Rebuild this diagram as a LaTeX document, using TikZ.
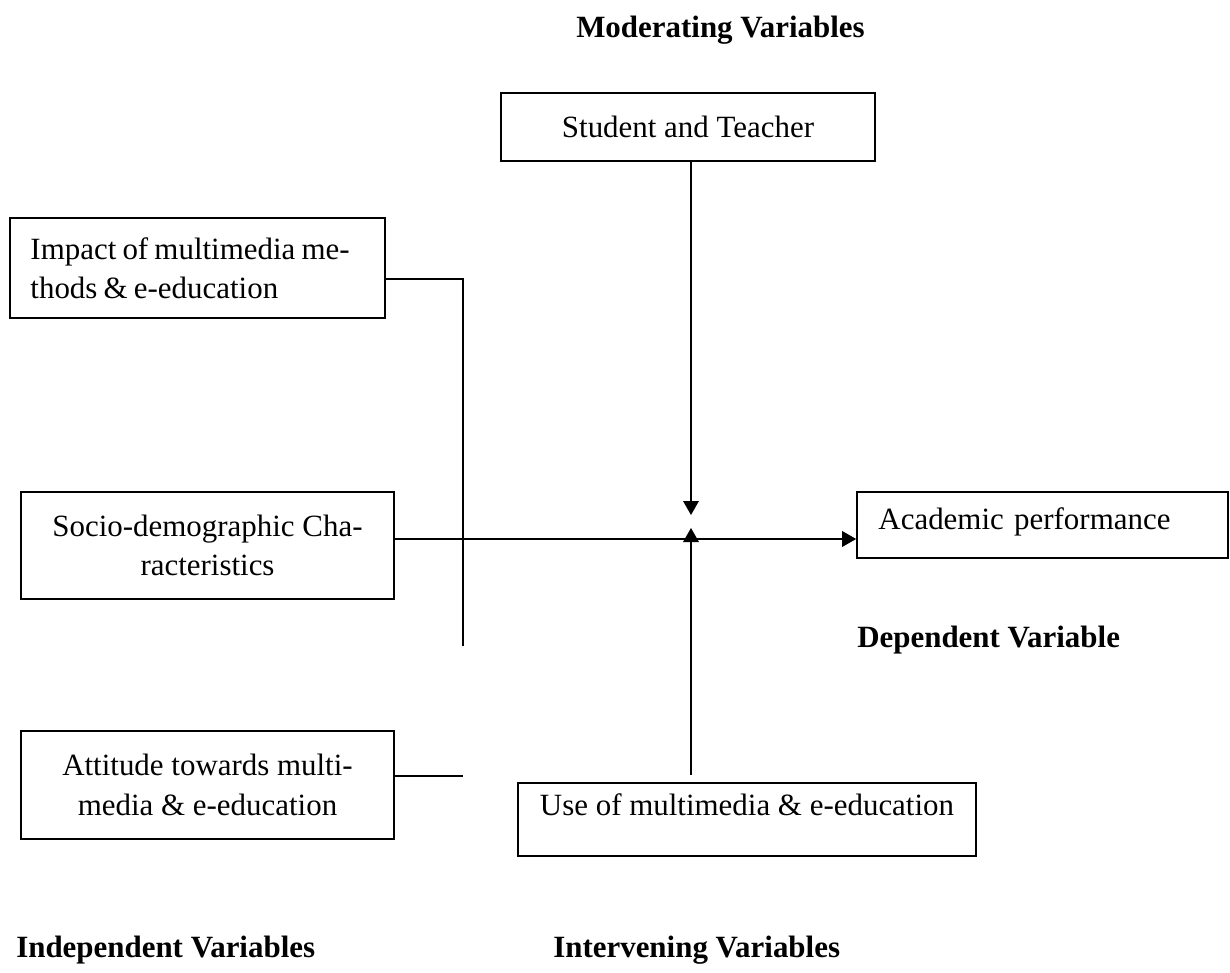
\documentclass[tikz,border=0pt]{standalone}
\usepackage{fontspec}
\setmainfont{Liberation Serif}
\usetikzlibrary{arrows.meta}
\tikzset{
  var box/.style={
    draw, line width=1.1pt,                  % frame of a variable box
    inner sep=0pt,
    font=\fontsize{22}{28}\selectfont
  },
  var label/.style={font=\fontsize{22}{28}\selectfont\bfseries, inner sep=0pt},
  link/.style={
    line width=1pt,
    >={Triangle[length=0.35cm,width=0.39cm]} % arrow tip style
  }
}

\begin{document}
\begin{tikzpicture}[x=0.025cm, y=-0.025cm]
    \useasboundingbox (0,0) rectangle (1230,973);

    % Variable boxes
    \node[var box, minimum width=9.35cm, minimum height=1.7cm] (teacher) at (688,127) {Student and Teacher};
    \node[var box, minimum width=9.375cm, minimum height=2.5cm, text width=8.35cm, align=left] (impact) at (197.5,268) {\spaceskip=0.2em Impact of multimedia me-\\thods \& e-education};
    \node[var box, minimum width=9.325cm, minimum height=2.675cm, align=center] (socio) at (207.5,545.5) {Socio-demographic Cha-\\racteristics};
    \node[var box, minimum width=9.325cm, minimum height=2.7cm, align=center] (attitude) at (207.5,785) {Attitude towards multi-\\media \& e-education};
    \node[var box, minimum width=11.45cm, minimum height=1.825cm, text height=0.55cm, text depth=0.73cm] (use) at (747,819.5) {Use of multimedia \& e-education};
    \node[var box, minimum width=9.275cm, minimum height=1.65cm, text width=8.2cm, align=left, text height=0.55cm, text depth=0.35cm] (academic) at (1042.5,525) {Academic performance};

    % Group labels
    \node[var label, anchor=base west] (moderating) at (576,37) {Moderating Variables};
    \node[var label, anchor=base west] (dependent) at (857,647) {Dependent Variable};
    \node[var label, anchor=base west] (independent) at (16,957) {Independent Variables};
    \node[var label, anchor=base west] (intervening) at (553,957) {Intervening Variables};

    % Junction points
    \coordinate (hub) at (691,539);
    \coordinate (bar top) at (463,279);
    \coordinate (bar end) at (463,646);
    \coordinate (stub) at (463,776);
    \coordinate (down tip) at (691,515);
    \coordinate (up tip) at (691,528);

    % Connectors
    \draw[link] (impact.east |- bar top) -- (bar top) -- (bar end); % shared bar
    \draw[link, ->] (socio.east |- hub) -- (academic.west |- hub);
    \draw[link] (attitude.east |- stub) -- (stub);
    \draw[link, ->] (teacher.south -| hub) -- (down tip);
    \draw[link, ->, shorten <=0.175cm] (use.north -| hub) -- (up tip);
\end{tikzpicture}
\end{document}
